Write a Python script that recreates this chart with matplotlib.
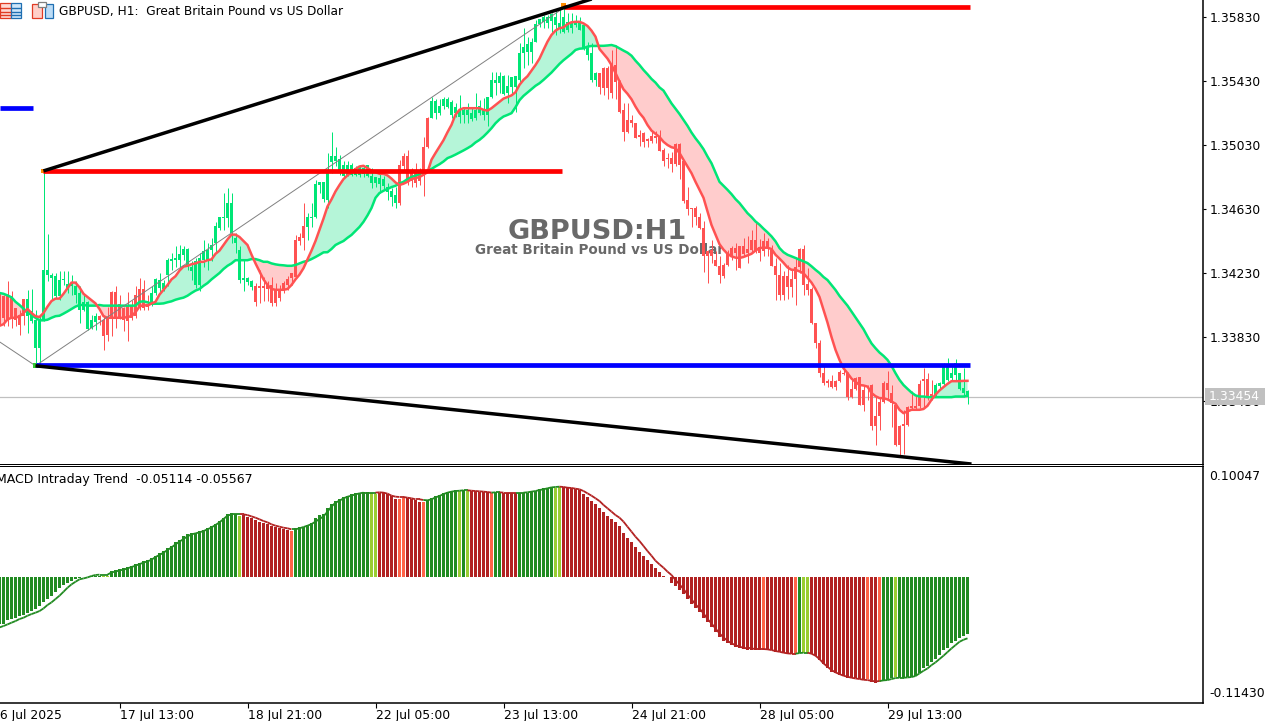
import numpy as np
import matplotlib
matplotlib.use("Agg")
import matplotlib.pyplot as plt
from matplotlib.collections import LineCollection
from matplotlib.patches import Rectangle

# Candle values in pips: price = 1 + pips / 10000
high_pips = [
3410.5,3409.4,3417.8,3411.5,3401,3400,3407,3412.6,3413,3400,
3396,3486.8,3447.5,3423,3423,3424,3424,3424,3422,3417.8,
3414.6,3409.4,3405.3,3397,3398,3397,3397,3402,3411.5,3414.6,
3409.4,3402,3410.9,3406.3,3414.6,3419.8,3418.8,3409.4,3414.6,3419.8,
3423,3418.8,3432.3,3435.4,3439.6,3440.6,3439.6,3438.6,3430.2,3432.3,
3435.4,3443.8,3441.7,3444.8,3455,3458.3,3472.8,3476,3472.8,3447.9,
3439.6,3431,3420.8,3418.8,3416.7,3425,3420.8,3417.7,3420.8,3416.7,
3415.6,3417.7,3421,3423.3,3446.8,3447.9,3466.6,3460.4,3466.6,3481,
3480,3480,3497.9,3511.4,3502,3496.9,3492.7,3492.7,3491.7,3489.6,
3490.6,3490,3490.6,3488.6,3483,3485.4,3483.4,3479.2,3476,3477,
3493.8,3498,3500,3488.6,3491.7,3488.6,3508.3,3520.8,3533,3532,
3532,3532.7,3533.3,3531.2,3529,3534.3,3527,3529,3527,3535.4,
3531.2,3532.2,3533.3,3548.9,3548.9,3548.9,3546.8,3546.8,3545.8,3546.2,
3566.6,3575.9,3570.7,3569.7,3581,3582,3584.2,3584.2,3585.3,3587.4,
3587.8,3588.4,3585.3,3585.3,3584.2,3583.2,3579,3567.6,3566.6,3548.9,
3547.8,3552,3552.4,3562.4,3565.5,3543.7,3529,3529,3521.8,3516.6,
3512.4,3511.4,3507.2,3512.4,3512,3512.4,3501,3498,3498.9,3504.5,
3504.1,3492.7,3477,3463.6,3464.6,3460.4,3455.2,3437.6,3443.8,3436.5,
3433.4,3429.2,3437.6,3439.6,3442,3439.6,3444.8,3445.9,3450,3454,
3444.2,3448,3444.8,3440.7,3432.4,3429.2,3424,3428,3425,3433,
3438.4,3440.5,3426,3414.5,3391.6,3381,3365.6,3356.7,3359.4,3356,
3362.5,3364.6,3361.4,3356,3357.9,3357.9,3353,3353,3353.7,3345.8,
3344.8,3355.2,3362,3353,3341.7,3328.2,3337.5,3339.6,3349,3346.9,
3356,3363.5,3360.4,3356,3354.2,3354.6,3366.6,3369.8,3365.6,3369,
3360.8,3363.5,3350]
body_top_pips = [
3408.4,3408.4,3409.4,3408.4,3401,3397,3406.7,3406.7,3399,3393.4,
3393.8,3425,3425,3422,3420.9,3418.8,3419.4,3416.3,3416.7,3414.6,
3410.5,3404.7,3404.7,3393.8,3396.3,3396.3,3393.4,3394.9,3410.9,3411.3,
3403.8,3401,3403.2,3403.2,3409.4,3413,3413,3403.8,3410.5,3419.2,
3418.8,3416.7,3430.9,3431.9,3432.3,3435,3438,3438,3427,3430.2,
3432.3,3437,3437.5,3440.6,3452.5,3457.7,3458.3,3466.6,3466.6,3444.8,
3437.5,3419.8,3419.8,3417.8,3414.6,3415,3415,3415.6,3415.6,3412.9,
3412.5,3417,3419.4,3423,3443.7,3445.4,3452.5,3457.9,3458.3,3478.7,
3480,3480,3487.5,3496.3,3496.3,3494.2,3490.6,3490.6,3490.2,3488.6,
3489.6,3488.6,3490.2,3483.8,3482.9,3482.3,3481.7,3476.7,3474,3472,
3490.6,3496.3,3496.3,3487.5,3487.5,3484.4,3502,3519.8,3530.8,3530.8,
3527.5,3531.6,3531.6,3530,3527,3524.5,3525,3525,3522.9,3525,
3527.5,3525,3533.3,3543.7,3543.7,3546.2,3546.2,3540,3545.8,3546.2,
3560.3,3564.5,3566.1,3567.6,3578.6,3582,3582.8,3583.2,3584.9,3583.2,
3579,3582.8,3580,3580,3580,3580,3578,3563.4,3560.3,3548.3,
3547.8,3551,3551,3553,3553,3542.6,3525,3518.7,3518.7,3516.6,
3509.3,3510.4,3506.6,3508.7,3508.7,3508.3,3500,3494.8,3494.8,3503.7,
3503.7,3492.7,3468.8,3463.6,3463.6,3458,3451,3436.5,3437.6,3431,
3427.2,3428.2,3435.5,3438.6,3438.6,3439.6,3439.6,3438,3443.8,3443.8,
3439.2,3443.2,3443.2,3437.1,3427.2,3422,3421.1,3421,3419,3427,
3437.8,3437.8,3416,3412.8,3391.6,3379,3360.4,3355.2,3355.6,3355.8,
3361.4,3360.4,3360.4,3350.6,3357.3,3357.7,3350,3350,3353.1,3333.8,
3342.3,3354.2,3354.2,3347.9,3340.6,3327.5,3328.8,3339.2,3339.6,3340,
3353.7,3356.7,3356.7,3347.5,3353,3354.2,3365,3365.6,3360.4,3366.6,
3360.4,3351,3349]
body_bottom_pips = [
3395,3395,3393.8,3395,3393.8,3390.7,3396.3,3396,3392.8,3376,
3376,3393.8,3422,3419.8,3408.8,3408.4,3418.8,3412.6,3414.6,3409.4,
3400,3400,3388,3388.6,3392.2,3393.4,3383.9,3384.5,3394.9,3394.9,
3394.9,3393.8,3392.8,3394.9,3396.3,3401,3401,3401.7,3404.2,3410.5,
3413.6,3413,3421.9,3430.2,3431.3,3431.3,3434.4,3427,3424,3415.7,
3415.7,3431.3,3430.9,3437.5,3441.6,3451,3457.2,3457.2,3447.9,3441.6,
3418.8,3418.8,3417.1,3414.2,3404.6,3413.6,3413.6,3413.2,3404.2,3404.2,
3407.3,3413,3415.6,3419.8,3420.8,3442.7,3444.8,3452,3457.2,3457.9,
3478,3469,3468.8,3492.1,3493.3,3487.5,3483.8,3484.4,3484.4,3484.4,
3484.4,3485,3483.4,3479.2,3479.2,3478.8,3477.1,3473.4,3470.5,3466.7,
3466.7,3490,3480.2,3480.2,3479.2,3480.2,3484.4,3502,3519.8,3522.9,
3522.9,3527.5,3526.6,3521.8,3522.9,3520.4,3521.8,3521.8,3519,3519.8,
3523.3,3521.8,3521.8,3533.3,3541.6,3542,3535,3535.4,3539,3539,
3543.7,3560.3,3561.4,3561.4,3567.6,3578.6,3580,3579.5,3580.7,3578,
3576,3573.8,3574.9,3575.9,3578,3574.9,3563.4,3559.3,3543.7,3543.7,
3539,3538.5,3538.5,3535.4,3542.6,3523.9,3511.4,3511.4,3516.6,3507.2,
3507.7,3505,3505.6,3505.6,3507.2,3499.3,3493.3,3494.1,3491.2,3491.2,
3490.6,3467.7,3463,3463,3457.7,3451,3433.4,3433.4,3433.4,3427.2,
3422,3421.3,3428.2,3433.4,3435.5,3426,3435,3435.5,3437.6,3436.5,
3435.5,3436.5,3439.2,3427.6,3422,3409.5,3409.3,3414.5,3414.5,3419,
3427,3415.5,3412.4,3391.6,3379,3360.4,3354,3354,3351.5,3351.5,
3355.2,3360,3345.4,3345.4,3350.4,3340.6,3340.6,3349.6,3327.1,3327.1,
3333.4,3342.3,3350,3341.7,3315.7,3315.7,3327.1,3328.2,3338.6,3338.6,
3339.6,3355.2,3345.8,3345.8,3346.9,3352.5,3353.7,3356.2,3357.3,3359.4,
3350.4,3347.9,3345.8]
low_pips = [
3391,3389.7,3389.7,3388.6,3389.7,3384.5,3390.7,3385.5,3391.8,3365.5,
3365.5,3392.8,3417.8,3406,3407.4,3406.3,3415.7,3410.5,3409.4,3404.2,
3391.8,3399,3387.6,3388,3387.6,3390.7,3375,3380.3,3383.4,3388.6,
3394.3,3386.6,3380.3,3393.8,3394.9,3400,3400,3400,3402.6,3409.4,
3410.5,3411.5,3414.6,3425,3427,3427,3431.3,3425,3418.8,3413.6,
3411.5,3427,3425,3430.2,3435.4,3450,3450,3452,3441.6,3435.4,
3416.7,3411.5,3415.6,3412.5,3402.1,3404.2,3405.2,3405.2,3402.1,3402.5,
3405.2,3410.4,3412.5,3415.6,3419.8,3440.6,3437.5,3443.7,3452,3457.2,
3473,3467.6,3463.6,3485.4,3489.6,3484.4,3482.3,3483.4,3483.4,3483.4,
3483,3483,3483,3476,3477,3473,3475,3468.8,3464.6,3463.6,
3465.7,3486.5,3478.2,3476.7,3476.7,3478.2,3470.9,3501,3519.8,3519.1,
3521.8,3525.4,3526,3519.8,3520.8,3517,3516.6,3516.6,3517.7,3518.7,
3521.8,3518.7,3515,3532.2,3534.3,3535.4,3534.3,3529,3534.3,3523.9,
3542.6,3551,3553,3554,3567.6,3577,3575.9,3575.9,3572.8,3571.8,
3572.8,3572.8,3573.8,3572.8,3577,3574.9,3562.4,3556,3542.6,3540,
3535,3534.3,3531.6,3532.2,3531.6,3522.9,3505.2,3510.4,3514.5,3507.2,
3502.4,3502,3502,3504,3504,3499,3490,3488.5,3486.4,3490,
3481.6,3467,3459.4,3452,3453,3450.5,3423.4,3416.8,3429.2,3427.2,
3416.8,3419.9,3427.2,3431.3,3425,3426,3433.4,3429.2,3435.5,3435.5,
3430.3,3433.4,3433.4,3427.2,3406.4,3406.4,3406.2,3407,3408,3403,
3422.8,3409.3,3409.3,3391,3376,3358,3353,3352,3351,3349.6,
3354.6,3359.4,3343.8,3344.8,3349.6,3340.2,3336.9,3343.8,3324.6,3315.7,
3325,3341.7,3343.8,3327,3314.6,3308.4,3310,3327.5,3337.5,3337.5,
3338.6,3338.6,3343.8,3343.8,3345.8,3349.6,3353,3355.2,3355.2,3356.2,
3349.6,3345.8,3341.3]

# Moving averages in pips
fast_pips = [
3390,3391,3394,3395,3395,3396,3398,3400.5,3398,3396,
3395.5,3398,3402,3405.5,3407,3407,3410,3413.5,3417,3417,
3414,3410,3408,3406,3404,3400.5,3396,3395,3395,3395,
3395,3395,3395.5,3396,3398.5,3402,3403,3402.5,3404,3405,
3409.5,3412.5,3415.5,3419,3421,3424.5,3427,3427.5,3428.5,3429,
3430,3430,3431,3431.5,3435,3437,3440.5,3444,3447,3447,
3445.5,3443,3440.5,3434.5,3429,3424,3419,3415.5,3413,3412.5,
3412.5,3412.5,3413,3415.5,3419,3422,3426,3431.5,3437,3443,
3450,3457,3464.6,3469,3474,3478,3481.7,3484,3486,3488,
3489.6,3490,3488.6,3487,3486,3485,3485,3484,3482,3479.6,
3478,3478.8,3480,3481.7,3482.3,3483,3484.4,3486,3493.8,3498,
3502,3506,3511,3515.6,3522,3525,3526,3526,3526,3526,
3526,3525,3524.5,3526,3528,3530,3532,3533,3534,3536,
3540.6,3543.7,3546,3549.5,3553,3557,3562.4,3567.6,3571.8,3574.5,
3576,3576.5,3578.6,3579.7,3580,3580,3579,3577.4,3574.5,3570.7,
3563,3560,3557,3553,3548,3542.6,3537.8,3535,3531.6,3527,
3523,3520,3515.5,3512,3510,3508,3505,3503,3501.6,3501,
3498,3493.7,3489.6,3485.4,3480,3475,3470,3461.5,3453,3447,
3441,3437.6,3435,3433.4,3432.6,3432.4,3433,3434,3435,3437,
3438.6,3438.8,3438.8,3438,3434.4,3432,3429.4,3426.5,3425,3425,
3424,3422.8,3420,3417,3413,3408,3400,3392,3383,3375,
3368.7,3363.5,3360.4,3357,3355,3353,3352.7,3352,3348,3346,
3344.8,3344.8,3344,3342.7,3341.3,3337.5,3335.4,3336.5,3337.5,3337.5,
3337.5,3338,3340,3343.8,3347,3349.6,3351.7,3353.7,3355.4,3355.4,
3355.4,3355.6,3355.6]
slow_pips = [
3410.5,3410,3409,3407.8,3405,3403,3400.7,3398.4,3396.8,3395,
3393.4,3393.4,3393.8,3395,3396,3396.3,3397.6,3399,3400.5,3402,
3403,3403,3402.6,3402.6,3402.6,3403,3402.6,3402.6,3402.6,3402.6,
3402.6,3402.6,3402.6,3402.6,3402.6,3405,3405.3,3404.7,3403.8,3403.8,
3403.8,3404,3404.7,3405.3,3406.3,3407,3407.6,3408.8,3410.5,3412,
3413,3415,3416.7,3419,3421,3423,3425.5,3427.5,3429,3431,
3431,3431,3431,3431.7,3431.7,3431,3430,3430,3429,3428.4,
3428,3427.8,3427.5,3427.5,3428,3429,3430,3430.6,3431.7,3433,
3434.4,3435.9,3436,3438,3440.5,3441.8,3443,3445,3446.8,3449.3,
3451.8,3455,3459,3463.6,3470,3473,3474.4,3475.5,3476.7,3477.5,
3479,3480,3481.7,3483,3483.8,3485,3486,3487,3488,3489.6,
3491,3492.7,3494.8,3495.8,3497,3498.3,3499.6,3501,3502.5,3504.6,
3506.2,3508.3,3510.8,3513.5,3516.6,3519,3520.8,3521.8,3522.9,3526.6,
3531,3533.7,3535.8,3537.9,3540,3541.6,3543.7,3546,3548.3,3551,
3553.7,3556,3558,3560,3562.4,3563.2,3563.4,3564.5,3564.9,3564.9,
3565,3565,3565.2,3565.5,3564.8,3563.4,3562,3560.7,3558.8,3555.7,
3553,3549.9,3547.2,3544.3,3542,3539,3537,3533,3529,3525.7,
3522.4,3518.7,3515,3510.8,3507.2,3504,3500.4,3495.8,3491.6,3485.8,
3480,3477.5,3475,3472.3,3469.2,3466.7,3463.6,3460.4,3458,3455.2,
3453.2,3450.7,3448.4,3445.9,3442.8,3438.6,3436,3434.4,3433.4,3432.4,
3431.3,3430.3,3429.2,3427.2,3425,3423,3420.5,3418.6,3415.5,3412.4,
3408.7,3405.7,3402.6,3398.9,3395.3,3391.6,3387.9,3383.3,3379,3376,
3373.3,3371.2,3368.7,3365,3360.4,3356.2,3353,3350.6,3348.3,3346.5,
3345.8,3345.8,3345.4,3345.4,3345.4,3345.4,3345.4,3345.4,3345.4,3345.8,
3345.8,3345.8,3346.3]

# MACD panel, in thousandths
hist_milli = [
-47.2,-46.5,-43.2,-42.2,-40.6,-39.3,-37.6,-36.3,-34,-31.7,
-28.7,-25.4,-22.1,-18.8,-15.5,-10.9,-8.3,-5.9,-4,-2.6,
-1.7,-0.7,-0.3,0.2,0.7,1,1,1,5.6,6.3,
7.3,8.3,9.6,10.9,12.5,13.9,15.2,16.5,18.2,20.8,
23.1,25.4,28,30.4,34,36.3,40.3,42.2,42.9,43.6,
44.9,46.5,47.9,50.2,52.1,55.1,58.4,61.7,62.7,62,
60.4,61,59.4,58.4,56.1,54.5,52.8,52.1,50.5,48.8,
47.9,47.2,46.2,45.5,47.9,49.5,49.5,51.2,52.8,57.8,
61,62,67.7,71.6,74.9,76.9,78.5,80.2,81.5,82.5,
83.2,83.5,83.5,82.5,82.2,83.2,83.5,81.5,79.9,76.9,
76.9,77.6,78.2,76.6,75.9,74.3,73.6,76.2,77.6,80.2,
80.9,83.2,84.2,84.8,85.8,84.8,85.5,84.8,84.8,84.5,
84.2,84.2,83.5,82.5,83.5,84.2,82.8,82.8,82.8,82.8,
82.8,82.8,83.2,84.8,85.1,86.8,87.5,88.1,89.1,88.1,
89.1,88.8,88.4,87.5,86.8,85.8,81.8,79.2,75.2,71.6,
67.7,64.4,60.4,57.1,53.8,50.5,42.9,38.6,34,29.7,
24.1,20.8,16.5,12.5,8.3,5,1,-0.3,-6.6,-8.9,
-13.2,-17.5,-22.1,-26.7,-30.7,-35.3,-41.2,-45.2,-50.2,-54.5,
-60.1,-63.4,-66,-67.7,-69.3,-71,-71.9,-72.3,-72.3,-72.9,
-72.9,-72.9,-72.6,-72.9,-74.3,-74.9,-75.9,-76.6,-76.9,-76.9,
-75.6,-75.6,-75.6,-76.2,-78.2,-82.5,-86.5,-90.8,-94,-95.7,
-97.4,-98,-100,-100.7,-100.7,-101.6,-102.3,-101.6,-104,-104.9,
-104,-103,-102.3,-100.7,-99.7,-100,-100,-99.7,-99,-98,
-95,-90.8,-88.1,-84.2,-81.5,-77.6,-72.6,-70.3,-66,-63.4,
-61,-58.7,-56.8]
signal_milli = [
-50.2,-48.8,-47.2,-45.5,-43.9,-41.9,-40.6,-38.6,-37,-35.6,
-34,-31.4,-28,-25.4,-22.1,-18.8,-14.9,-10.9,-7.6,-5,
-2.6,-1.7,-0.7,0.7,1.7,2,2,2,4.3,5,
6.3,6.9,8.3,9.6,10.9,12.5,13.9,15.2,16.8,19.5,
21.5,23.8,26.4,29,32,34.7,37.3,39.9,41.9,42.9,
43.9,45.2,46.9,48.8,51.2,53.8,57.1,60.4,61.7,61.7,
61.7,61.7,61,59.7,58.4,56.8,55.1,53.8,51.8,50.5,
49.5,48.5,47.9,46.9,46.9,47.9,49.2,50.5,52.1,54.5,
57.1,59.7,64.4,69.3,73.3,75.2,77.6,79.2,80.2,81.5,
82.5,83.2,83.2,83.2,83.2,83.5,83.2,82.2,80.2,79.2,
78.9,78.9,78.2,77.6,76.6,76.6,75.9,75.6,76.6,78.5,
79.9,81.8,83.2,84.2,84.8,85.1,85.5,85.5,85.1,84.8,
84.5,84.2,83.8,83.2,83.5,83.5,83.2,83.2,83.2,83.2,
83.2,83.2,83.5,84.2,84.8,85.8,86.5,87.5,88.4,88.8,
89.1,88.8,88.1,87.8,87.1,86.5,84.8,82.5,80.2,77.6,
74.9,71,67.7,64.4,61,58.4,54.5,49.5,44.6,39.6,
35.3,30.4,25.4,20.8,15.8,12.2,8.9,5,1.7,-3.3,
-7.6,-12.2,-17.5,-22.4,-27.4,-31.4,-36.3,-41.9,-46.2,-51.2,
-56.1,-60.1,-63.4,-66,-67.7,-69.3,-70.3,-71,-71,-71.6,
-71.6,-71.6,-71.9,-72.6,-73.6,-74.3,-75.2,-75.9,-76.2,-76.2,
-75.6,-75.2,-75.2,-76.2,-78.2,-81.5,-85.8,-89.1,-92.4,-94.7,
-96.4,-98,-99,-100,-100.7,-101.3,-102,-102.3,-103,-103.6,
-103.3,-102.6,-102.3,-101.3,-100.3,-100,-100,-99.7,-99.3,-98.3,
-95.7,-93.1,-90.8,-87.5,-84.8,-81.5,-78.2,-74.6,-71,-67.7,
-64.4,-62.4,-61]
# colour state of the histogram, as runs of (bars, state)
hist_runs = [(26,'G'),(2,'Y'),(32,'G'),(1,'Y'),(12,'R'),(1,'T'),(19,'G'),(2,'Y'),(5,'R'),(2,'T'),
             (4,'R'),(1,'T'),(8,'G'),(1,'Y'),(1,'G'),(1,'Y'),(5,'R'),(1,'T'),(2,'G'),(4,'R'),
             (9,'G'),(2,'Y'),(50,'R'),(1,'T'),(7,'R'),(1,'T'),(1,'G'),(2,'Y'),(14,'R'),(1,'T'),
             (2,'R'),(1,'T'),(3,'G'),(1,'Y'),(18,'G')]

price_ticks = [1.35830, 1.35430, 1.35030, 1.34630, 1.34230, 1.33830, 1.33430]
macd_ticks = [0.10047, -0.11430]
date_tick_bars = [30, 62, 94, 126, 158, 190, 222]
date_tick_labels = ["17 Jul 13:00", "18 Jul 21:00", "22 Jul 05:00", "23 Jul 13:00",
                    "24 Jul 21:00", "28 Jul 05:00", "29 Jul 13:00"]
last_price = 1.33454
red_levels = [(10.9, 140.5, 1.34868), (141.0, 242.6, 1.35893)]
blue_levels = [(9.0, 242.6, 1.33655), (0.0, 8.4, 1.35260)]
black_lines = [((11, 149), (1.34868, 1.35950)), ((9, 243), (1.33650, 1.33036))]
zigzag_bars = [0, 9, 141]
zigzag_prices = [1.33800, 1.33650, 1.35886]
anchor_bars = [9, 11, 141]
anchor_prices = [1.33650, 1.34868, 1.35905]
anchor_colors = ['#32cd32', '#ff8c00', '#ff8c00']

arrays = [high_pips, body_top_pips, body_bottom_pips, low_pips, fast_pips, slow_pips, hist_milli, signal_milli]
n = len(high_pips)
assert all(len(a) == 243 for a in arrays), [len(a) for a in arrays]

to_price = lambda a: 1 + np.array(a, dtype=float) / 1e4
high, top, bot, low = map(to_price, (high_pips, body_top_pips, body_bottom_pips, low_pips))
fast, slow = to_price(fast_pips), to_price(slow_pips)
hist, signal = np.array(hist_milli) / 1e3, np.array(signal_milli) / 1e3
state = [s for cnt, s in hist_runs for _ in range(cnt)]
bars = np.arange(n)

W, H = 1279, 721
plt.rcParams['font.family'] = ['DejaVu Sans']
FS = 8.9
fig = plt.figure(figsize=(W / 100, H / 100), dpi=100, facecolor='white')

ax = fig.add_axes([0, 1 - 464 / H, 1202.5 / W, 464 / H])
ax2 = fig.add_axes([0, 1 - 702.5 / H, 1202.5 / W, 236.5 / H])
XLIM = (0.125, 300.75)
for a in (ax, ax2):
    a.set_xlim(*XLIM)
    a.spines['left'].set_visible(False)
    a.yaxis.tick_right()
    a.patch.set_alpha(0)
ax.set_ylim(1.35830 - 447 / 16000, 1.35830 + 17 / 16000)
ax.spines['top'].set_visible(False)
ax.spines['bottom'].set_linewidth(0.72)
ax.spines['right'].set_linewidth(1.1)

# Watermark
mid = (597.5 + 0.5) / 4
ax.text(mid, 1.34630 - 22.5 / 16000, "GBPUSD:H1", color='#696969', fontsize=19.5, fontweight='bold',
        ha='center', va='center', zorder=1)
ax.text(mid + 0.5, 1.34630 - 41 / 16000, "Great Britain Pound vs US Dollar", color='#696969',
        fontsize=9.75, fontweight='bold', ha='center', va='center', zorder=1)

ax.axhline(last_price, color='#c0c0c0', lw=0.9, zorder=1.5)
up = fast >= slow
ax.fill_between(bars, fast, slow, where=up, interpolate=True, color='#b5f5d8', lw=0, zorder=2)
ax.fill_between(bars, fast, slow, where=~up, interpolate=True, color='#ffcccc', lw=0, zorder=2)

candle_colors = np.where(up, '#00e676', '#ff5252')
ax.vlines(bars, low, high, colors=candle_colors, lw=0.72, zorder=3)
ax.bar(bars, top - bot, bottom=bot, width=0.8, color=candle_colors, lw=0, antialiased=False, zorder=3.1)

ax.plot(bars, slow, color='#00e676', lw=1.8, zorder=4)
ax.plot(bars, fast, color='#ff5252', lw=1.8, zorder=4.1)

ax.plot(zigzag_bars, zigzag_prices, color='#808080', lw=0.7, zorder=4.5)
for x0, x1, p in red_levels:
    ax.plot([x0, x1], [p, p], color='#ff0000', lw=3.4, solid_capstyle='butt', zorder=5)
for x0, x1, p in blue_levels:
    ax.plot([x0, x1], [p, p], color='#0000ff', lw=3.4, solid_capstyle='butt', zorder=5)
ax.scatter(anchor_bars, anchor_prices, marker='s', s=11, c=anchor_colors, lw=0, zorder=4.8, clip_on=False)
for xs, ps in black_lines:
    ax.plot(xs, ps, color='black', lw=2.5, solid_capstyle='butt', zorder=5.5)

ax.set_xticks([])
ax.set_yticks(price_ticks)
ax.set_yticklabels([f"{v:.5f}" for v in price_ticks], fontsize=FS)
ax.tick_params(axis='y', length=2.4, width=0.8, pad=2.5, colors='black')

# MACD panel
ZERO_Y = 576.7
PX = 1010.4
ax2.set_ylim(-(702.5 - ZERO_Y) / PX, (ZERO_Y - 466) / PX)
ax2.spines['top'].set_linewidth(0.72)
ax2.spines['bottom'].set_linewidth(1.1)
ax2.spines['right'].set_linewidth(1.1)
palette = {'G': '#228b22', 'Y': '#9acd32', 'R': '#b22222', 'T': '#ff6347'}
ax2.bar(bars, hist, width=0.8, color=[palette[s] for s in state], lw=0, antialiased=False, zorder=2)
segs = [[(i, signal[i]), (i + 1, signal[i + 1])] for i in range(n - 1)]
seg_colors = [palette['G'] if state[i + 1] in 'GY' else palette['R'] for i in range(n - 1)]
ax2.add_collection(LineCollection(segs, colors=seg_colors, linewidths=1.3, zorder=3))
ax2.set_yticks(macd_ticks)
ax2.set_yticklabels([f"{v:.5f}" for v in macd_ticks], fontsize=FS)
ax2.tick_params(axis='y', length=0, pad=4.7)
ax2.set_xticks(date_tick_bars)
ax2.set_xticklabels(date_tick_labels, fontsize=FS, ha='left')
ax2.tick_params(axis='x', length=3.6, width=0.8, pad=1)
ax2.text(-2, -0.028, "16 Jul 2025", fontsize=FS, ha='left', va='top', clip_on=False,
         transform=ax2.get_xaxis_transform(), zorder=5)

fig.text(59 / W, 1 - 11 / H, "GBPUSD, H1:  Great Britain Pound vs US Dollar", fontsize=8.75, va='center', ha='left')
fig.text(-3.5 / W, 1 - 479 / H, "MACD Intraday Trend  -0.05114 -0.05567", fontsize=9.0, va='center', ha='left')

# Overlay in pixels: toolbar icons and the last-price tag
ov = fig.add_axes([0, 0, 1, 1], zorder=20)
ov.set_xlim(0, W)
ov.set_ylim(H, 0)
ov.axis('off')
ic = [
    (0, 3, 11, 15, '#ffd9d4', '#e03b24'), (11, 3, 10, 15, '#cfe6fa', '#1f6fb2'),
    (32, 4, 10, 14, '#ffcfc8', '#e03b24'), (45, 4, 8, 14, '#bcdcf6', '#1f6fb2'),
    (38, 2, 8, 5, '#ffffff', '#808080'),
]
for x, y, w, h, fc, ec in ic:
    ov.add_patch(Rectangle((x, y), w, h, facecolor=fc, edgecolor=ec, lw=0.9))
for y in (7.5, 11.5, 15):
    ov.plot([1, 10], [y, y], color='#e03b24', lw=1)
    ov.plot([12, 20], [y, y], color='#1f6fb2', lw=1)
ov.add_patch(Rectangle((1205, 388), 60, 17, facecolor='#c0c0c0', edgecolor='none'))
ov.text(1209, 397, f"{last_price:.5f}", color='white', fontsize=FS, va='center', ha='left')

fig.savefig("out.png", dpi=100, facecolor='white')
